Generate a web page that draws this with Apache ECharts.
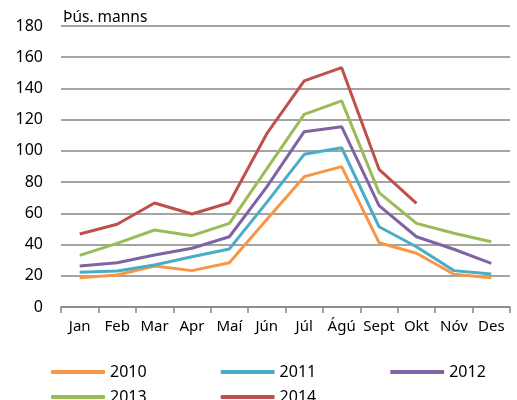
<!DOCTYPE html>
<html>
<head>
<meta charset="utf-8">
<script src="https://cdn.jsdelivr.net/npm/echarts@6/dist/echarts.min.js"></script>
<style>
  html, body { margin: 0; padding: 0; background: #fff; }
  #chart { width: 517px; height: 400px; }
</style>
</head>
<body>
<div id="chart"></div>
<script>
// mánuðir
var months = ['Jan', 'Feb', 'Mar', 'Apr', 'Maí', 'Jún', 'Júl', 'Ágú', 'Sept', 'Okt', 'Nóv', 'Des'];
var years = ['2010', '2011', '2012', '2013', '2014'];
var colors = ['#F79646', '#4BACC6', '#8064A2', '#9BBB59', '#C0504D'];

var v2010 = [18.8, 20.5, 26.3, 23.3, 28.4, 56, 83.5, 89.9, 41.2, 34.4, 21, 18.8];
var v2011 = [22.2, 23, 26.9, 32.2, 37.2, 67, 97.8, 102, 51.4, 38.6, 23.3, 21.1];
var v2012 = [26.3, 28.4, 33.3, 37.6, 45, 77, 112.3, 115.5, 64.9, 45, 37, 28];
var v2013 = [33.1, 40.8, 49.3, 45.7, 53.6, 88.5, 123.4, 132, 73.3, 53.6, 47.2, 41.8];
var v2014 = [46.8, 53, 66.6, 59.6, 66.8, 111, 144.8, 153.3, 88.2, 66.4, null, null];
var allValues = [v2010, v2011, v2012, v2013, v2014];

var yTicks = [0, 20, 40, 60, 80, 100, 120, 140, 160, 180];
var yLabel = 'Þús. manns';

var font = 'Noto Sans';
var chart = echarts.init(document.getElementById('chart'));

var series = [];
for (var i = 0; i < years.length; i++) {
    series.push({
        name: years[i],
        type: 'line',
        data: allValues[i],
        symbol: 'none',
        connectNulls: false,
        lineStyle: { width: 3, color: colors[i] },
        itemStyle: { color: colors[i] }
    });
}

function legendBox(data, top) {
    return {
        data: data,
        left: 46,
        top: top,
        orient: 'horizontal',
        icon: 'roundRect',
        itemWidth: 54,
        itemHeight: 4,
        itemGap: 74,
        textStyle: { fontFamily: font, fontSize: 16, color: '#000' }
    };
}

chart.setOption({
    animation: false,
    color: colors,
    grid: { left: 61, right: 7, top: 26, bottom: 93, containLabel: false },
    title: {
        text: yLabel,
        left: 58,
        top: 5,
        textStyle: { fontFamily: font, fontSize: 15.5, fontWeight: 'normal', color: '#000' }
    },
    legend: [
        legendBox(years.slice(0, 3), 359),
        legendBox(years.slice(3), 384)
    ],
    xAxis: {
        type: 'category',
        data: months,
        boundaryGap: true,
        axisLine: { lineStyle: { color: '#868686', width: 1.5 } },
        axisTick: { show: true, length: 6, lineStyle: { color: '#868686', width: 1.5 } },
        axisLabel: { fontFamily: font, fontSize: 15, color: '#000', margin: 12, interval: 0 }
    },
    yAxis: {
        type: 'value',
        min: yTicks[0],
        max: yTicks[yTicks.length - 1],
        interval: 20,
        axisLine: { show: false },
        axisTick: { show: false },
        splitLine: { lineStyle: { color: '#868686', width: 1.5 } },
        axisLabel: { fontFamily: font, fontSize: 16, color: '#000', margin: 18 }
    },
    series: series
});
</script>
</body>
</html>
